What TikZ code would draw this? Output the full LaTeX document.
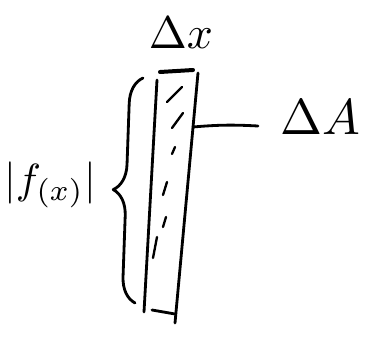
\documentclass[tikz,border=0pt]{standalone}
\usetikzlibrary{decorations.pathreplacing}

\tikzset{
  pen/.style={line width=2.4pt, line cap=round, line join=round},
  hatch/.style={line width=2pt, line cap=round},
  capline/.style={line width=3.4pt, line cap=round},
  sketchlabel/.style={inner sep=0pt, transform shape=false, scale=#1},
  sketchlabel/.default=3.8
}

\begin{document}
\begin{tikzpicture}[x=0.3mm, y=-0.3mm]
	\useasboundingbox (0,0) rectangle (381,337);

	% corners of the thin strip
	\coordinate (TL) at (157,80);
	\coordinate (BL) at (144,312);
	\coordinate (TR) at (198,73);
	\coordinate (BR) at (175,323);
	\coordinate (Rmid) at (193,127);
	\coordinate (Tip) at (258,126);

	\draw[pen] (TL) -- (BL);
	\draw[pen] (TR) -- (BR);
	\draw[capline] (160,72) -- (193,70);
	\draw[pen] (152,310) -- (175,314);

	% hatching inside the strip
	\foreach \xa/\ya/\xb/\yb in {167/102/182/87, 172/128/183/113, 172/154/175/147,
		163/195/167/182, 163/227/166/217, 153/258/157/237}
		\draw[hatch] (\xa,\ya) -- (\xb,\yb);

	% labels
	\node[sketchlabel=3.9] (dx) at (181,33) {$\Delta x$};
	\node[sketchlabel=4.3] (dA) at (320,117) {$\Delta A$};
	\node[sketchlabel=3.6] (fx) at (50,185) {$|f_{(x)}|$};

	\draw[pen] (Rmid) to[bend left=4] (Tip);

	% height brace
	\draw[pen, decorate, decoration={brace, amplitude=22pt}] (135,303) -- (143,78);
\end{tikzpicture}
\end{document}
